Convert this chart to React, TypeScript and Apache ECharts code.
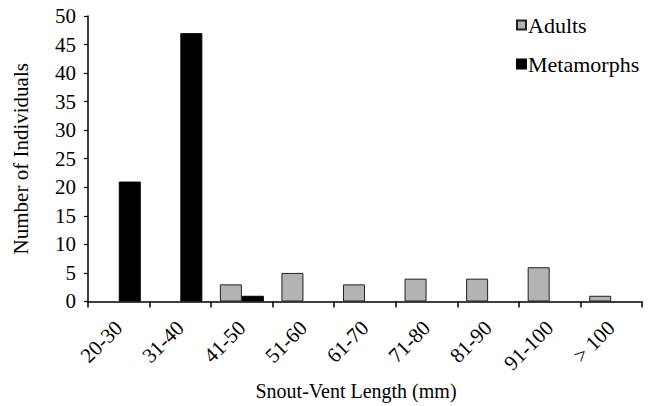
import React, { useEffect, useRef } from "react";
import * as echarts from "echarts";

const categories = ["20-30", "31-40", "41-50", "51-60", "61-70", "71-80", "81-90", "91-100", "> 100"];
const adults = [0, 0, 3, 5, 3, 4, 4, 6, 1];
const metamorphs = [21, 47, 1, 0, 0, 0, 0, 0, 0];
const yTicks = { min: 0, max: 50, interval: 5 };

const FONT = "'Liberation Serif', 'Times New Roman', serif";
const hideZero = (arr: number[]) => arr.map((v) => (v === 0 ? "-" : v));

export default function App() {
  const ref = useRef<HTMLDivElement>(null);
  useEffect(() => {
    const chart = echarts.init(ref.current!, null, { renderer: "svg" });
    chart.setOption({
      animation: false,
      backgroundColor: "#ffffff",
      textStyle: { fontFamily: FONT, color: "#000" },
      legend: {
        orient: "vertical",
        left: 511,
        top: 9,
        itemWidth: 9,
        itemHeight: 9,
        itemGap: 17,
        icon: "rect",
        textStyle: { fontFamily: FONT, fontSize: 22, color: "#000", padding: [0, 0, 0, -3] },
        data: ["Adults", "Metamorphs"],
      },
      grid: { left: 88, right: 15, top: 16, bottom: 100, containLabel: false },
      xAxis: {
        type: "category",
        data: categories,
        name: "Snout-Vent Length (mm)",
        nameLocation: "middle",
        nameGap: 76,
        nameTextStyle: { fontFamily: FONT, fontSize: 20, color: "#000", padding: [0, 18, 0, 0] },
        axisLine: { lineStyle: { color: "#000", width: 1.5 } },
        axisTick: { show: true, length: 6, lineStyle: { color: "#000", width: 1.5 } },
        axisLabel: { rotate: 45, fontFamily: FONT, fontSize: 21, color: "#000", margin: 23 },
      },
      yAxis: {
        type: "value",
        min: yTicks.min,
        max: yTicks.max,
        interval: yTicks.interval,
        name: "Number of Individuals",
        nameLocation: "middle",
        nameGap: 57,
        nameTextStyle: { fontFamily: FONT, fontSize: 21, color: "#000" },
        axisLine: { show: true, lineStyle: { color: "#000", width: 1.5 } },
        axisTick: { show: true, length: 4, lineStyle: { color: "#000", width: 1.2 } },
        splitLine: { show: false },
        axisLabel: { fontFamily: FONT, fontSize: 21, color: "#000", margin: 12 },
      },
      series: [
        {
          name: "Adults",
          type: "bar",
          data: hideZero(adults),
          barWidth: 22,
          barGap: "0%",
          itemStyle: { color: "#b3b3b3", borderColor: "#222", borderWidth: 1 },
        },
        {
          name: "Metamorphs",
          type: "bar",
          data: hideZero(metamorphs),
          barWidth: 22,
          barGap: "0%",
          itemStyle: { color: "#000", borderColor: "#000", borderWidth: 1 },
        },
      ],
    });
    return () => chart.dispose();
  }, []);
  return (
    <div
      ref={ref}
      style={{ position: "absolute", left: 0, top: 0, width: 657, height: 406, overflow: "hidden" }}
    />
  );
}
